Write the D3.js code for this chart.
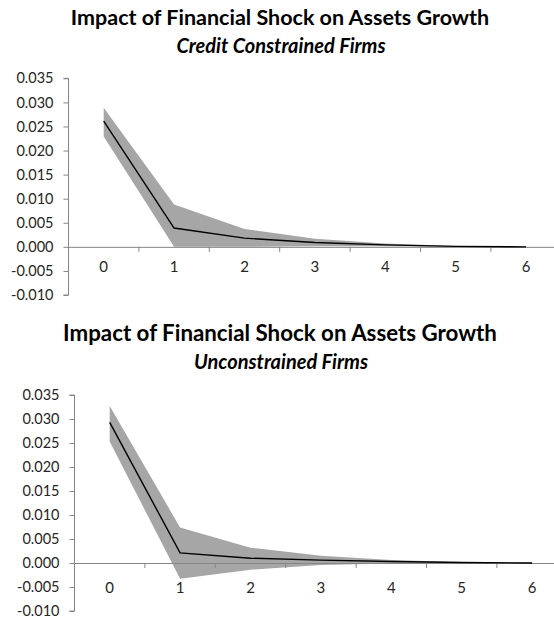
<!DOCTYPE html>
<html>
<head>
<meta charset="utf-8">
<script src="https://cdn.jsdelivr.net/npm/d3@7"></script>
<style>
  html, body { margin: 0; padding: 0; background: #fff; }
  svg { display: block; }
</style>
</head>
<body>
<svg id="chart" width="554" height="619"></svg>
<script>
// ---- data ----
const periods = ["0", "1", "2", "3", "4", "5", "6"];
const yTicks = [-0.010, -0.005, 0.000, 0.005, 0.010, 0.015, 0.020, 0.025, 0.030, 0.035];

const titleMain = "Impact of Financial Shock on Assets Growth";
const subConstrained = "Credit Constrained Firms";
const subUnconstrained = "Unconstrained Firms";

const constrainedIRF   = [0.0261, 0.0039, 0.0018, 0.0009, 0.0004, 0.0001, 0.0000];
const constrainedUpper = [0.0289, 0.0088, 0.0037, 0.0017, 0.0007, 0.0002, 0.0001];
const constrainedLower = [0.0229, 0.0000, 0.0000, 0.0001, 0.0001, 0.0000, 0.0000];

const unconstrainedIRF   = [0.0293, 0.0021, 0.0010, 0.0006, 0.0003, 0.0001, 0.0000];
const unconstrainedUpper = [0.0327, 0.0074, 0.0032, 0.0015, 0.0006, 0.0002, 0.0001];
const unconstrainedLower = [0.0253, -0.0033, -0.0014, -0.0004, -0.0001, 0.0000, 0.0000];

// ---- layout ----
const panels = [
  { sub: subConstrained, irf: constrainedIRF, up: constrainedUpper, lo: constrainedLower,
    t1: 25, t2: 53, tSize: 21.5, sSize: 20, axisX: 68.5, yTop: 78.3, yBot: 295, xLabDy: 25 },
  { sub: subUnconstrained, irf: unconstrainedIRF, up: unconstrainedUpper, lo: unconstrainedLower,
    t1: 341, t2: 369, tSize: 22.3, sSize: 20, axisX: 74.5, yTop: 395, yBot: 611, xLabDy: 29 }
];

const svg = d3.select("#chart");
const font = "Lato, 'Open Sans', sans-serif";
const fmt = v => (Math.abs(v) < 1e-9 ? "0.000" : v.toFixed(3));

panels.forEach(p => {
  const g = svg.append("g");
  const y = d3.scaleLinear().domain([-0.010, 0.035]).range([p.yBot, p.yTop]);
  const step = 70.4;
  const x = d3.scaleBand().domain(periods).range([p.axisX, p.axisX + step * periods.length]).paddingInner(0).paddingOuter(0);
  const cx = d => x(d) + x.bandwidth() / 2;

  // titles
  g.append("text").attr("x", 280).attr("y", p.t1).attr("text-anchor", "middle")
    .attr("font-family", font).attr("font-weight", "bold").attr("font-size", p.tSize).attr("fill", "#000")
    .text(titleMain);
  g.append("text").attr("x", 281).attr("y", p.t2).attr("text-anchor", "middle")
    .attr("font-family", font).attr("font-weight", "bold").attr("font-style", "italic")
    .attr("font-size", p.sSize).attr("fill", "#000").text(p.sub);

  // band
  const area = d3.area().x((d, i) => cx(periods[i])).y0((d, i) => y(p.lo[i])).y1(d => y(d));
  g.append("path").datum(p.up).attr("d", area).attr("fill", "#a6a6a6");

  // y axis
  const yAxis = d3.axisLeft(y).tickValues(yTicks).tickFormat(fmt).tickSize(5).tickPadding(10);
  const ya = g.append("g").attr("transform", `translate(${p.axisX},0)`).call(yAxis);
  ya.select(".domain").attr("stroke", "#868686").attr("d", `M-5,${p.yTop}H0V${p.yBot}H-5`);
  ya.selectAll(".tick line").attr("stroke", "#868686");
  ya.selectAll(".tick text").attr("font-family", font).attr("font-size", 14.5).attr("fill", "#262626");

  // x axis at zero
  const y0 = y(0);
  const xAxis = d3.axisBottom(x).tickSize(0).tickPadding(p.xLabDy - 10);
  const xa = g.append("g").attr("transform", `translate(0,${y0})`).call(xAxis);
  xa.select(".domain").attr("stroke", "#868686");
  xa.selectAll(".tick text").attr("font-family", font).attr("font-size", 15).attr("fill", "#262626");
  // boundary tick marks between categories
  xa.selectAll(".bnd").data(periods.slice(1)).enter().append("line")
    .attr("class", "bnd").attr("x1", d => x(d)).attr("x2", d => x(d))
    .attr("y1", 0).attr("y2", 5).attr("stroke", "#868686");

  // IRF line
  const line = d3.line().x((d, i) => cx(periods[i])).y(d => y(d));
  g.append("path").datum(p.irf).attr("d", line).attr("fill", "none")
    .attr("stroke", "#000").attr("stroke-width", 1.4);
});
</script>
</body>
</html>
